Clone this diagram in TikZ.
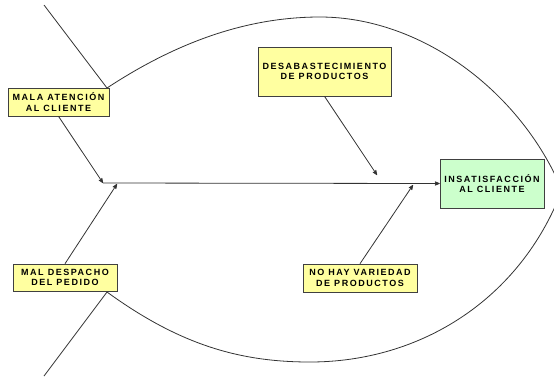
\documentclass[tikz,border=0pt]{standalone}
\usepackage{fontspec}
\usepackage{tikz}
\newfontfamily\boxfont[LetterSpace=17]{Liberation Sans}
\usetikzlibrary{arrows}
\definecolor{causeyellow}{RGB}{255,255,160}
\definecolor{effectgreen}{RGB}{204,255,204}

\begin{document}
\begin{tikzpicture}[x=1pt,y=-1pt,->,>=stealth',line width=0.8pt,draw=black!80]
 \tikzstyle{cause}=[draw=black!75,line width=0.6pt,fill=causeyellow,inner sep=0pt,align=center,
   font=\boxfont\bfseries\fontsize{9}{10.5}\selectfont]
 \tikzstyle{effect}=[cause,fill=effectgreen]
 \useasboundingbox (0,0) rectangle (554,376);
 \clip (0,0) rectangle (554,376);

 % fish body
 \coordinate (top)  at (107,88);
 \coordinate (bot)  at (107,292);
 \coordinate (nose) at (562,190);
 \coordinate (tailA) at (44,5);
 \coordinate (tailB) at (44,376);
 \draw[-] (tailA) -- (top);
 \draw[-] (tailB) -- (bot);
 \draw[-] (top) .. controls (180,40) and (250,17) .. (320,17)
   .. controls (420,17) and (520,90) .. (nose);
 \draw[-] (bot) .. controls (180,345) and (240,362) .. (310,362)
   .. controls (420,362) and (520,300) .. (nose);

 % causes and effect
 \node[cause,minimum width=101pt,minimum height=28pt] (mala) at (58.5,102) {MALA ATENCIÓN\\AL CLIENTE};
 \node[cause,minimum width=133pt,minimum height=49pt] (desa) at (324.5,71.5) {DESABASTECIMIENTO\\DE PRODUCTOS};
 \node[cause,minimum width=104pt,minimum height=27pt] (despacho) at (65,277.5) {MAL DESPACHO\\DEL PEDIDO};
 \node[cause,minimum width=114pt,minimum height=28pt] (variedad) at (360,278) {NO HAY VARIEDAD\\DE PRODUCTOS};
 \node[effect,minimum width=104pt,minimum height=49pt] (insat) at (492,183.5) {INSATISFACCIÓN\\AL CLIENTE};

 % spine
 \coordinate (spine) at (103,183);
 \coordinate (m1) at (117,184);
 \coordinate (m2) at (377,175);
 \coordinate (m3) at (413,185);
 \draw (spine) -- (insat.west);
 \draw (mala.south) -- (spine);
 \draw (despacho.north) -- (m1);
 \draw (desa.south) -- (m2);
 \draw (variedad.north) -- (m3);
\end{tikzpicture}
\end{document}
